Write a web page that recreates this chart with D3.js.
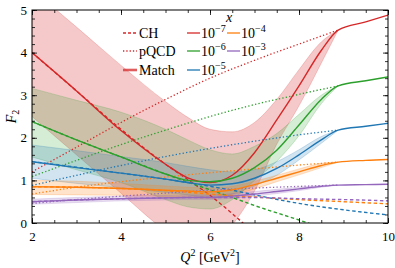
<!DOCTYPE html>
<html>
<head>
<meta charset="utf-8">
<script src="https://cdn.jsdelivr.net/npm/d3@7"></script>
<style>
  body { margin: 0; background: #fff; }
</style>
</head>
<body>
<div id="graph"></div>
<script>
// x values (Bjorken x) and their colours
var xLabels = ["-7", "-6", "-5", "-4", "-3"];
var colors = ["#d62728", "#2ca02c", "#1f77b4", "#ff7f0e", "#9467bd"];
var bandAlpha = [0.25, 0.2, 0.2, 0.22, 0.22];

// matched curve and its band
var q2Match = [2, 3, 4, 5, 5.5, 6, 6.5, 7, 7.5, 8, 8.5, 8.88, 9.5, 10];
var match = [
  [4.0, 3.1, 2.17, 1.38, 1.06, 0.95, 1.12, 1.65, 2.42, 3.22, 4.05, 4.53, 4.72, 4.88],
  [2.38, 1.95, 1.55, 1.15, 1.0, 0.97, 1.05, 1.3, 1.71, 2.3, 2.9, 3.22, 3.34, 3.43],
  [1.44, 1.3, 1.17, 1.03, 0.95, 0.89, 0.92, 1.05, 1.28, 1.6, 1.95, 2.18, 2.27, 2.34],
  [0.85, 0.84, 0.81, 0.77, 0.75, 0.73, 0.78, 0.9, 1.05, 1.2, 1.35, 1.43, 1.47, 1.49],
  [0.5, 0.54, 0.57, 0.59, 0.6, 0.6, 0.63, 0.68, 0.74, 0.8, 0.86, 0.89, 0.9, 0.91]
];
var q2Band = [2, 3, 4, 5, 5.5, 6, 6.5, 7, 7.5, 8, 8.5, 8.88];
var bandUp = [
  [5.48, 4.6, 3.7, 2.85, 2.48, 2.2, 2.14, 2.36, 2.9, 3.6, 4.25, 4.53],
  [3.16, 2.88, 2.6, 2.2, 1.95, 1.72, 1.62, 1.8, 2.1, 2.55, 3.0, 3.22],
  [1.83, 1.7, 1.56, 1.42, 1.33, 1.25, 1.2, 1.25, 1.44, 1.72, 2.03, 2.18],
  [1.0, 0.98, 0.93, 0.87, 0.84, 0.82, 0.86, 0.98, 1.12, 1.27, 1.4, 1.43],
  [0.56, 0.6, 0.63, 0.65, 0.66, 0.66, 0.69, 0.74, 0.79, 0.84, 0.88, 0.89]
];
var bandLo = [
  [2.5, 1.6, 0.7, -0.18, -0.5, -0.6, -0.05, 0.75, 1.85, 2.75, 3.75, 4.53],
  [1.55, 1.25, 0.95, 0.55, 0.38, 0.33, 0.55, 1.0, 1.45, 2.05, 2.8, 3.22],
  [1.05, 0.93, 0.83, 0.72, 0.66, 0.6, 0.68, 0.87, 1.12, 1.48, 1.87, 2.18],
  [0.67, 0.66, 0.65, 0.62, 0.6, 0.58, 0.66, 0.8, 0.97, 1.13, 1.3, 1.43],
  [0.44, 0.48, 0.52, 0.54, 0.55, 0.55, 0.58, 0.63, 0.69, 0.76, 0.84, 0.89]
];

// perturbative QCD (dotted)
var q2Pqcd = [2, 3, 4, 5, 6, 7, 8, 8.88];
var pqcd = [
  [1.2, 1.78, 2.36, 2.9, 3.4, 3.82, 4.2, 4.53],
  [1.09, 1.47, 1.84, 2.18, 2.5, 2.78, 3.02, 3.22],
  [0.88, 1.12, 1.35, 1.56, 1.75, 1.92, 2.07, 2.18],
  [0.68, 0.84, 0.97, 1.08, 1.18, 1.27, 1.36, 1.43],
  [0.46, 0.55, 0.63, 0.7, 0.77, 0.82, 0.86, 0.89]
];

// CH model (dashed)
var q2Ch = [2, 3, 4, 5, 5.5, 6, 6.5, 7, 8, 9, 10];
var ch = [
  [4.0, 3.1, 2.2, 1.38, 1.02, 0.65, 0.22, -0.25, null, null, null],
  [2.38, 1.95, 1.55, 1.15, 0.96, 0.78, 0.6, 0.41, 0.07, -0.29, null],
  [1.44, 1.31, 1.17, 1.03, 0.95, 0.86, 0.77, 0.66, 0.46, 0.31, 0.19],
  [0.85, 0.84, 0.81, 0.76, 0.72, 0.68, 0.64, 0.61, 0.55, 0.5, 0.45],
  [0.5, 0.54, 0.57, 0.59, 0.6, 0.6, 0.6, 0.6, 0.57, 0.55, 0.52]
];

var xTicks = [2, 4, 6, 8, 10];
var yTicks = [0, 1, 2, 3, 4, 5];

var W = 395, H = 268;
var margin = { top: 10, right: 7, bottom: 45, left: 32 };
var width = W - margin.left - margin.right,
  height = H - margin.top - margin.bottom;
var FONT = "Liberation Serif, DejaVu Serif, serif";

var x = d3.scaleLinear().domain([2, 10]).range([0, width]);
var y = d3.scaleLinear().domain([0, 5]).range([height, 0]);

var svg = d3.select("#graph").append("svg")
  .attr("width", W).attr("height", H)
  .attr("font-family", FONT);
var g = svg.append("g")
  .attr("transform", "translate(" + margin.left + "," + margin.top + ")");

g.append("clipPath").attr("id", "clip")
  .append("rect").attr("width", width).attr("height", height);
var plot = g.append("g").attr("clip-path", "url(#clip)");

function pts(xs, ys) {
  return xs.map(function(q, i) { return [q, ys[i]]; });
}

var line = d3.line()
  .defined(function(d) { return d[1] != null; })
  .x(function(d) { return x(d[0]); })
  .y(function(d) { return y(d[1]); })
  .curve(d3.curveMonotoneX);

var area = d3.area()
  .x(function(d) { return x(d[0]); })
  .y0(function(d) { return y(d[1]); })
  .y1(function(d) { return y(d[2]); })
  .curve(d3.curveMonotoneX);

// bands
colors.forEach(function(c, k) {
  var data = q2Band.map(function(q, i) { return [q, bandLo[k][i], bandUp[k][i]]; });
  plot.append("path").attr("d", area(data))
    .attr("fill", c).attr("fill-opacity", bandAlpha[k])
    .attr("stroke", c).attr("stroke-opacity", 0.3).attr("stroke-width", 0.7);
});

// CH dashed
colors.forEach(function(c, k) {
  plot.append("path").attr("d", line(pts(q2Ch, ch[k])))
    .attr("fill", "none").attr("stroke", c).attr("stroke-width", 1.4)
    .attr("stroke-dasharray", "3.5,2.5");
});

// pQCD dotted
colors.forEach(function(c, k) {
  plot.append("path").attr("d", line(pts(q2Pqcd, pqcd[k])))
    .attr("fill", "none").attr("stroke", c).attr("stroke-width", 1.3)
    .attr("stroke-dasharray", "1.3,2.2");
});

// matched solid
colors.forEach(function(c, k) {
  plot.append("path").attr("d", line(pts(q2Match, match[k])))
    .attr("fill", "none").attr("stroke", c).attr("stroke-width", 1.4);
});

// axes: ticks inward on all sides
var xMinor = d3.range(2, 10.01, 0.5);
var yMinor = d3.range(0, 5.01, 0.2);

g.append("g").attr("transform", "translate(0," + height + ")")
  .call(d3.axisBottom(x).tickValues(xTicks).tickSize(-5).tickPadding(9).tickFormat(d3.format("d")));
g.append("g")
  .call(d3.axisLeft(y).tickValues(yTicks).tickSize(-5).tickPadding(5).tickFormat(d3.format("d")));
g.append("g").attr("transform", "translate(0," + height + ")")
  .call(d3.axisBottom(x).tickValues(xMinor).tickSize(-3).tickFormat(""));
g.append("g").call(d3.axisTop(x).tickValues(xTicks).tickSize(-5).tickFormat(""));
g.append("g").call(d3.axisTop(x).tickValues(xMinor).tickSize(-3).tickFormat(""));
g.append("g").call(d3.axisLeft(y).tickValues(yMinor).tickSize(-3).tickFormat(""));
g.append("g").attr("transform", "translate(" + width + ",0)")
  .call(d3.axisRight(y).tickValues(yTicks).tickSize(-5).tickFormat(""));
g.append("g").attr("transform", "translate(" + width + ",0)")
  .call(d3.axisRight(y).tickValues(yMinor).tickSize(-3).tickFormat(""));

g.selectAll(".domain").remove();
g.selectAll("g").attr("font-family", FONT);
g.selectAll(".tick line").attr("stroke", "#000").attr("stroke-width", 0.8);
g.selectAll(".tick text").attr("font-size", 13).attr("fill", "#000");

g.append("rect").attr("width", width).attr("height", height)
  .attr("fill", "none").attr("stroke", "#000").attr("stroke-width", 1);

// axis labels
var yl = svg.append("text")
  .attr("transform", "translate(16," + (margin.top + height / 2) + ") rotate(-90)")
  .attr("text-anchor", "middle").attr("font-size", 14);
yl.append("tspan").attr("font-style", "italic").text("F");
yl.append("tspan").attr("font-size", 10).attr("dy", 3).text("2");

var xl = svg.append("text")
  .attr("x", margin.left + width / 2).attr("y", 262)
  .attr("text-anchor", "middle").attr("font-size", 14);
xl.append("tspan").attr("font-style", "italic").text("Q");
xl.append("tspan").attr("font-size", 10).attr("dy", -6).text("2");
xl.append("tspan").attr("dy", 6).text(" [GeV");
xl.append("tspan").attr("font-size", 10).attr("dy", -6).text("2");
xl.append("tspan").attr("dy", 6).text("]");

// legend: line styles
var styleRows = [
  { name: "CH", dash: "3,2", w: 1.4, op: 1 },
  { name: "pQCD", dash: "1.3,2", w: 1.3, op: 1 },
  { name: "Match", dash: null, w: 2.6, op: 0.75 }
];
var rowY = [33, 51, 70];
styleRows.forEach(function(s, i) {
  svg.append("line").attr("x1", 123).attr("x2", 137)
    .attr("y1", rowY[i]).attr("y2", rowY[i])
    .attr("stroke", colors[0]).attr("stroke-width", s.w)
    .attr("stroke-opacity", s.op)
    .attr("stroke-dasharray", s.dash);
  svg.append("text").attr("x", 139).attr("y", rowY[i] + 4.5)
    .attr("font-size", 14).text(s.name);
});

// legend: x values
svg.append("text").attr("x", 229).attr("y", 22).attr("font-size", 14)
  .attr("font-style", "italic").attr("text-anchor", "middle").text("x");
var colX = [187, 227];
xLabels.forEach(function(lab, k) {
  var cx = colX[k < 3 ? 0 : 1], cy = rowY[k % 3];
  svg.append("line").attr("x1", cx).attr("x2", cx + 13)
    .attr("y1", cy).attr("y2", cy)
    .attr("stroke", colors[k]).attr("stroke-width", 1.3);
  var t = svg.append("text").attr("x", cx + 14).attr("y", cy + 4.5)
    .attr("font-size", 14);
  t.append("tspan").text("10");
  t.append("tspan").attr("font-size", 10).attr("dy", -6).text("\u2212" + lab.slice(1));
});
</script>
</body>
</html>
